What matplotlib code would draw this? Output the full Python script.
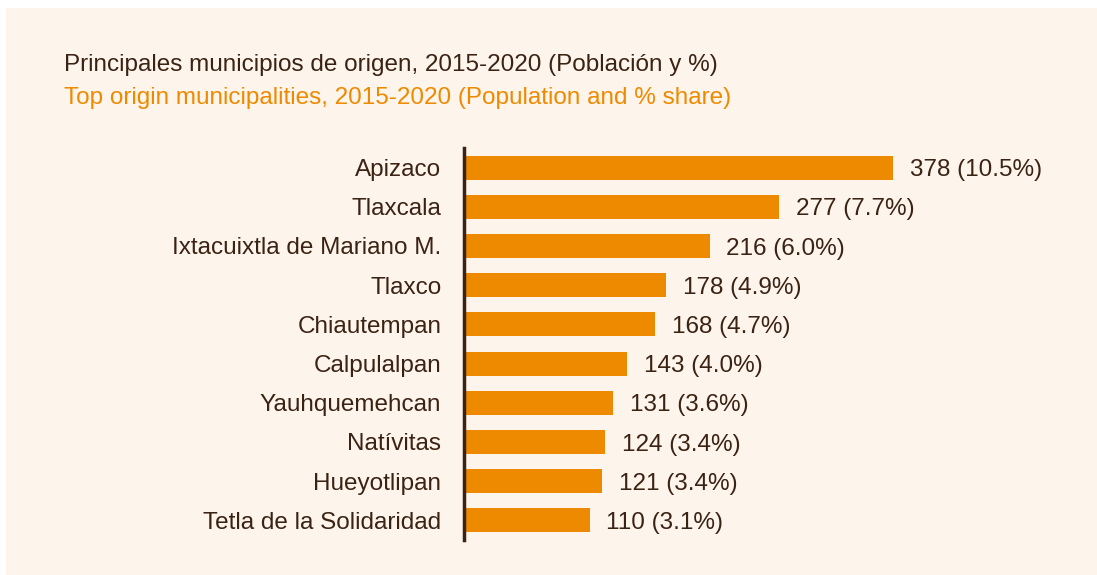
import matplotlib
matplotlib.use("Agg")
from matplotlib import pyplot as plt
from matplotlib.patches import Rectangle

plt.rcParams['font.family'] = ['Liberation Sans', 'DejaVu Sans']

municipios = ['Apizaco', 'Tlaxcala', 'Ixtacuixtla de Mariano M.', 'Tlaxco', 'Chiautempan',
              'Calpulalpan', 'Yauhquemehcan', 'Natívitas', 'Hueyotlipan', 'Tetla de la Solidaridad']
poblacion = [378, 277, 216, 178, 168, 143, 131, 124, 121, 110]
porcentaje = [10.5, 7.7, 6.0, 4.9, 4.7, 4.0, 3.6, 3.4, 3.4, 3.1]

naranja = '#EE8A00'
cafe = '#3B2314'
fondo = '#FDF4EC'

W, H = 1097, 575
fig = plt.figure(figsize=(W / 100, H / 100), dpi=100)
fig.patch.set_facecolor('white')
# beige panel, white strip on top and left
fig.patches.append(Rectangle((6 / W, 0), 1 - 6 / W, 1 - 8 / H, transform=fig.transFigure,
                             facecolor=fondo, edgecolor='none', zorder=-5))

ax = fig.add_axes([465 / W, 1 - 540 / H, (1060 - 465) / W, (540 - 148) / H])
ax.set_facecolor('none')
ax.set_zorder(2)

# spines first (set_position resets tick styling)
for s in ['top', 'right', 'bottom']:
    ax.spines[s].set_visible(False)
ax.spines['left'].set_position(('data', -1.3))
ax.spines['left'].set_color(cafe)
ax.spines['left'].set_linewidth(2.5)

y = list(range(len(municipios)))
ax.barh(y, poblacion, height=0.61, color=naranja, zorder=2)
for yi, p, pc in zip(y, poblacion, porcentaje):
    ax.text(p + 15, yi, f'{p} ({pc:.1f}%)', va='center_baseline', ha='left', fontsize=17.5, color=cafe)

ax.set_xlim(0, (1060 - 465) / 1.132)
ax.set_ylim(len(municipios) - 0.5, -0.5)
ax.set_yticks(y)
ax.set_yticklabels(municipios, fontsize=17.5, color=cafe)
ax.tick_params(axis='y', length=0, pad=16)
ax.set_xticks([])

fig.text(64 / W, 1 - 65 / H, 'Principales municipios de origen, 2015-2020 (Población y %)',
         fontsize=17.5, color=cafe, va='center', ha='left')
fig.text(64 / W, 1 - 98 / H, 'Top origin municipalities, 2015-2020 (Population and % share)',
         fontsize=17.5, color=naranja, va='center', ha='left')

fig.savefig('out.png', dpi=100, facecolor=fig.get_facecolor())
